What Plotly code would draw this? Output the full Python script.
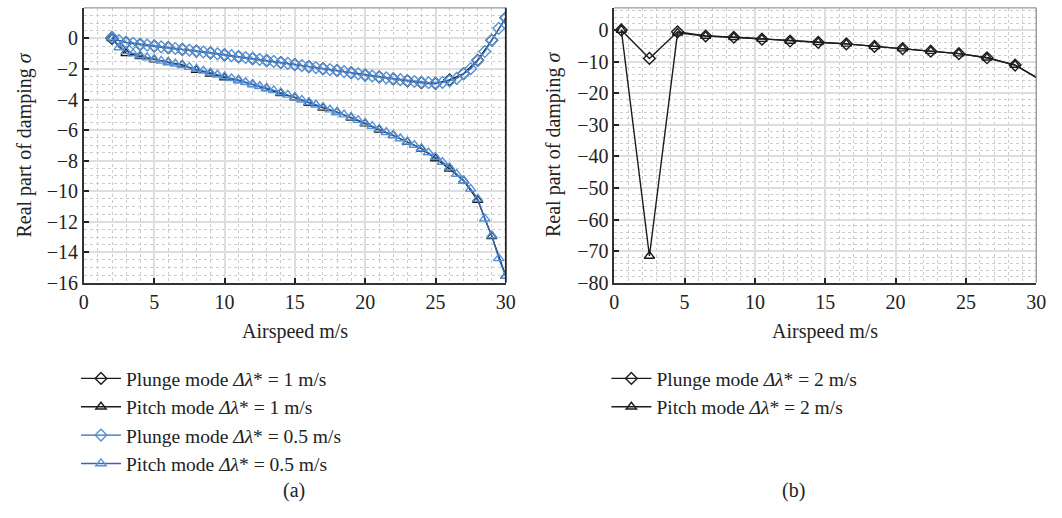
import plotly.graph_objects as go

# ---------------- data: panel (a) ----------------
x_a1 = [2, 3, 4, 5, 6, 7, 8, 9, 10, 11, 12, 13, 14, 15, 16, 17, 18, 19, 20,
        21, 22, 23, 24, 25, 26, 27, 28, 29, 30]
plunge_a1 = [0.0, -0.28, -0.4, -0.5, -0.61, -0.72, -0.83, -0.95, -1.08, -1.2,
             -1.32, -1.45, -1.58, -1.71, -1.85, -1.98, -2.1, -2.25, -2.4, -2.52,
             -2.65, -2.78, -2.9, -2.95, -2.72, -2.3, -1.43, -0.12, 1.35]
pitch_a1 = [0.0, -0.98, -1.17, -1.39, -1.56, -1.73, -2.07, -2.31, -2.56, -2.74,
            -3.01, -3.27, -3.59, -3.87, -4.23, -4.55, -4.83, -5.19, -5.58, -5.98,
            -6.35, -6.79, -7.22, -7.86, -8.54, -9.31, -10.58, -12.95, -15.56]

x_a05 = [2, 2.5, 3, 3.5, 4, 4.5, 5, 5.5, 6, 6.5, 7, 7.5, 8, 8.5, 9, 9.5, 10,
         10.5, 11, 11.5, 12, 12.5, 13, 13.5, 14, 14.5, 15, 15.5, 16, 16.5, 17,
         17.5, 18, 18.5, 19, 19.5, 20, 20.5, 21, 21.5, 22, 22.5, 23, 23.5, 24,
         24.5, 25, 25.5, 26, 26.5, 27, 27.5, 28, 28.5, 29, 29.5, 30]
plunge_a05 = [0.08, -0.15, -0.25, -0.32, -0.38, -0.44, -0.5, -0.55, -0.6, -0.66,
              -0.72, -0.77, -0.83, -0.89, -0.95, -1.01, -1.07, -1.13, -1.19, -1.25,
              -1.32, -1.38, -1.45, -1.51, -1.58, -1.64, -1.71, -1.78, -1.85, -1.91,
              -1.98, -2.04, -2.1, -2.17, -2.24, -2.32, -2.4, -2.46, -2.52, -2.58,
              -2.64, -2.7, -2.76, -2.82, -2.87, -2.9, -2.92, -2.88, -2.78, -2.62,
              -2.32, -1.98, -1.45, -0.86, -0.12, 0.66, 1.35]
pitch_a05 = [0.05, -0.6, -0.85, -1.0, -1.12, -1.25, -1.36, -1.47, -1.56, -1.66,
             -1.76, -1.88, -2.0, -2.12, -2.25, -2.38, -2.5, -2.62, -2.74, -2.87,
             -3.0, -3.13, -3.26, -3.4, -3.55, -3.7, -3.85, -4.02, -4.18, -4.34,
             -4.5, -4.66, -4.82, -4.99, -5.16, -5.35, -5.54, -5.74, -5.94, -6.14,
             -6.34, -6.55, -6.76, -6.98, -7.2, -7.47, -7.78, -8.1, -8.45, -8.88,
             -9.3, -9.85, -10.5, -11.8, -12.9, -14.4, -15.56]

# ---------------- data: panel (b) ----------------
x_b = [0.5, 2.5, 4.5, 6.5, 8.5, 10.5, 12.5, 14.5, 16.5, 18.5, 20.5, 22.5, 24.5,
       26.5, 28.5, 30.5]
plunge_b = [0.0, -9.0, -0.6, -1.9, -2.3, -2.9, -3.5, -3.9, -4.4, -5.2, -5.9,
            -6.7, -7.5, -8.8, -11.1, -16.3]
pitch_b = [0.0, -71.5, -0.9, -1.9, -2.3, -2.9, -3.5, -3.9, -4.4, -5.2, -5.9,
           -6.7, -7.5, -8.8, -11.1, -16.3]

names_a = ["Plunge mode <i>Δλ</i>* = 1 m/s", "Pitch mode <i>Δλ</i>* = 1 m/s",
           "Plunge mode <i>Δλ</i>* = 0.5 m/s", "Pitch mode <i>Δλ</i>* = 0.5 m/s"]
names_b = ["Plunge mode <i>Δλ</i>* = 2 m/s", "Pitch mode <i>Δλ</i>* = 2 m/s"]

FONT = "Times New Roman, Liberation Serif, serif"
BLACK = "#1c1c1c"
BLUE_LINE = "#3566b8"
BLUE_MK = "#5592d6"
W, H = 1062, 518

fig = go.Figure()

def tr(x, y, name, symbol, lc, mc, xa, ya, legend, rank, size=9):
    return go.Scatter(
        x=x, y=y, name=name, mode="lines+markers",
        line=dict(color=lc, width=1.4),
        marker=dict(symbol=symbol, size=size, color=mc,
                    line=dict(color=mc, width=1.4)),
        xaxis=xa, yaxis=ya, legend=legend, legendrank=rank)

fig.add_trace(tr(x_a1, plunge_a1, names_a[0], "diamond-open", BLACK, BLACK, "x", "y", "legend", 1))
fig.add_trace(tr(x_a1, pitch_a1, names_a[1], "triangle-up-open", BLACK, BLACK, "x", "y", "legend", 2))
fig.add_trace(tr(x_a05, plunge_a05, names_a[2], "diamond-open", BLUE_LINE, BLUE_MK, "x", "y", "legend", 3, 9))
fig.add_trace(tr(x_a05, pitch_a05, names_a[3], "triangle-up-open", BLUE_LINE, BLUE_MK, "x", "y", "legend", 4))
fig.add_trace(tr(x_b, plunge_b, names_b[0], "diamond-open", BLACK, BLACK, "x2", "y2", "legend2", 1))
fig.add_trace(tr(x_b, pitch_b, names_b[1], "triangle-up-open", BLACK, BLACK, "x2", "y2", "legend2", 2))

dom_xa = [80 / W, 508 / W]
dom_xb = [618 / W, 1046 / W]
dom_y = [(H - 289) / H, (H - 8) / H]

def xax(domain, anchor):
    return dict(domain=domain, anchor=anchor, range=[0, 30], dtick=5, tick0=0,
                showline=True, linecolor="#333", linewidth=1.5,
                ticks="inside", ticklen=5, tickwidth=1.5, tickcolor="#222",
                showgrid=True, gridcolor="#dedede", gridwidth=1.6,
                minor=dict(dtick=1, showgrid=True, gridcolor="#cccccc",
                           griddash="dot", gridwidth=1),
                zeroline=False, tickfont=dict(family=FONT, size=20, color="#222"))

def yax(domain, anchor, rng, dt, mdt):
    return dict(domain=domain, anchor=anchor, range=rng, dtick=dt, tick0=0,
                showline=True, linecolor="#333", linewidth=1.5,
                ticks="inside", ticklen=5, tickwidth=1.5, tickcolor="#222",
                showgrid=True, gridcolor="#dedede", gridwidth=1.6,
                minor=dict(dtick=mdt, showgrid=True, gridcolor="#cccccc",
                           griddash="dot", gridwidth=1),
                zeroline=False, tickfont=dict(family=FONT, size=20, color="#222"))

leg_common = dict(font=dict(family=FONT, size=19.5, color="#222"),
                  bgcolor="rgba(0,0,0,0)", xanchor="left", yanchor="top",
                  tracegroupgap=0, itemwidth=40)

fig.update_layout(
    width=W, height=H, margin=dict(l=0, r=0, t=0, b=0),
    paper_bgcolor="white", plot_bgcolor="white",
    xaxis=xax(dom_xa, "y"), yaxis=yax(dom_y, "x", [-16, 2], 2, 0.5),
    xaxis2=xax(dom_xb, "y2"), yaxis2=yax(dom_y, "x2", [-80, 7], 10, 2),
    legend=dict(x=72 / W, y=(H - 367) / H, **leg_common),
    legend2=dict(x=610 / W, y=(H - 367) / H, **leg_common),
    font=dict(family=FONT, size=20, color="#222"),
    showlegend=True,
)

# frame: top/right borders
for xr, yr, rc in [("x domain", "y domain", "#222"), ("x2 domain", "y2 domain", "#888")]:
    fig.add_shape(type="line", xref=xr, yref=yr, x0=0, x1=1, y0=1, y1=1,
                  line=dict(color="#999", width=1.2))
    fig.add_shape(type="line", xref=xr, yref=yr, x0=1, x1=1, y0=0, y1=1,
                  line=dict(color=rc, width=1.8 if rc == "#222" else 1.2))

ann = []
ytitle = "Real part of damping <i>σ</i>"
ann.append(dict(text=ytitle, x=20 / W, y=(H - 148) / H, textangle=-90))
ann.append(dict(text=ytitle, x=557 / W, y=(H - 148) / H, textangle=-90))
ann.append(dict(text="Airspeed m/s", x=294 / W, y=(H - 339) / H))
ann.append(dict(text="Airspeed m/s", x=832 / W, y=(H - 339) / H))
ann.append(dict(text="(a)", x=293 / W, y=(H - 501) / H))
ann.append(dict(text="(b)", x=800 / W, y=(H - 501) / H))
for a in ann:
    fig.add_annotation(xref="paper", yref="paper", showarrow=False,
                       xanchor="center", yanchor="middle",
                       font=dict(family=FONT, size=20, color="#222"), **a)

fig.write_html("out.html")
